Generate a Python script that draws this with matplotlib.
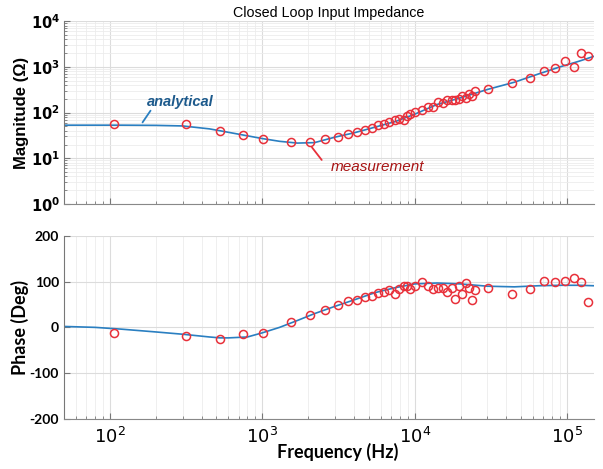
import numpy as np
import matplotlib
matplotlib.use('Agg')
import matplotlib.pyplot as plt
from matplotlib.ticker import LogLocator, NullFormatter

# measured points (Hz)
meas_freq = [106, 318, 528, 743, 1007, 1535, 2055, 2583, 3128, 3673, 4170, 4700,
             5225, 5775, 6300, 6820, 7400, 7940, 8490, 8880, 9380, 10000, 11130,
             12200, 13200, 14190, 15300, 16330, 17620, 18420, 19570, 20570, 21770,
             22770, 23830, 24820, 30050, 43200, 56700, 70100, 83700, 96900,
             110400, 124000, 137000]
meas_mag = [55, 55, 39, 32.7, 27, 23, 23, 26.8, 29, 33.9, 38, 40.7,
            45.7, 52.5, 56, 62, 67.6, 71, 70, 84, 91, 101, 112,
            132, 130, 167, 161, 191, 185, 185, 195, 233, 208,
            250, 226, 300, 327, 435, 577, 820, 925, 1336,
            988, 1968, 1690]
meas_phase = [-13, -19, -25.5, -15, -11.6, 11, 27, 38.5, 48.7, 57.5, 60.4, 67,
              69, 75.6, 76.4, 81.5, 73.5, 83, 89.5, 89.5, 83.6, 90, 99,
              91, 83.6, 86.5, 85, 78, 87, 63, 90, 74, 97.5,
              85, 60, 81.5, 87, 72, 83, 101, 99.6, 102,
              109, 99, 55]

# analytical curve
ana_freq = [50, 80, 120, 200, 300, 450, 528, 600, 800, 1000, 1300, 1700, 2200,
            3000, 4000, 5500, 7500, 10000, 14000, 20000, 30000, 45000, 65000,
            90000, 120000, 150000]
ana_mag = [53, 53, 53, 52.5, 51, 44, 40, 37, 31, 27, 23.5, 21.5, 22,
           29, 36, 48, 64, 92, 150, 210, 320, 460, 700,
           1000, 1330, 1700]
ana_phase = [2, 0, -4, -10, -15, -21, -23, -23, -21, -12, 0, 15, 30,
             46, 60, 76, 87, 95, 97, 95, 90, 88.6, 91,
             92, 92, 91]

blue = '#2a7fc1'
red = '#e8303a'

fig = plt.figure(figsize=(6.03, 4.69), dpi=100)
ax1 = fig.add_axes([0.106, 0.565, 0.879, 0.39])
ax2 = fig.add_axes([0.106, 0.107, 0.879, 0.39])

for ax in (ax1, ax2):
    ax.set_xscale('log')
    ax.set_xlim(50, 1.5e5)
    ax.grid(True, which='major', color='#dcdcdc', lw=0.8)
    ax.grid(True, which='minor', color='#ececec', lw=0.6)
    ax.spines['top'].set_visible(False)
    ax.spines['right'].set_visible(False)
    ax.spines['left'].set_color('#777777')
    ax.spines['bottom'].set_color('#888888')
    ax.tick_params(which='both', direction='in', color='#777777')
    ax.tick_params(which='major', length=4)
    ax.tick_params(which='minor', length=2.5)
    ax.set_axisbelow(True)

# magnitude
ax1.plot(ana_freq, ana_mag, color=blue, lw=1.2)
ax1.plot(meas_freq, meas_mag, 'o', mfc='none', mec=red, ms=5.8, mew=1.1)
ax1.set_yscale('log')
ax1.set_ylim(1, 1e4)
ax1.yaxis.set_minor_locator(LogLocator(base=10, subs=np.arange(2, 10)))
ax1.yaxis.set_minor_formatter(NullFormatter())
ax1.set_yticks([1, 10, 100, 1000, 10000])
ax1.set_yticklabels(['$\\mathbf{10^0}$', '$\\mathbf{10^1}$', '$\\mathbf{10^2}$',
                     '$\\mathbf{10^3}$', '$\\mathbf{10^4}$'], fontsize=10.5)
ax1.tick_params(axis='y', which='major', pad=3)
ax1.tick_params(axis='x', which='both', labelbottom=False)
ax1.set_ylabel('Magnitude (Ω)', fontsize=12, fontweight='bold', family='Liberation Sans')
ax1.yaxis.set_label_coords(-0.066, 0.5)
ax1.set_title('Closed Loop Input Impedance', fontsize=10.3, family='Liberation Sans', pad=3)

# labels with leader lines
ax1.annotate('', xy=(164, 61), xytext=(185, 110),
             arrowprops=dict(arrowstyle='-', color=blue, lw=1.3, shrinkA=0, shrinkB=0))
ax1.text(288, 170, 'analytical', fontsize=10.5, fontstyle='italic', fontweight='bold',
         color='#1d5a8c', ha='center', va='center', family='Liberation Sans')
ax1.annotate('', xy=(2120, 17.3), xytext=(2455, 9.2),
             arrowprops=dict(arrowstyle='-', color=red, lw=1.3, shrinkA=0, shrinkB=0))
ax1.text(5690, 6.4, 'measurement', fontsize=11, fontstyle='italic',
         color='#a81414', ha='center', va='center', family='Liberation Sans')

# phase
ax2.plot(ana_freq, ana_phase, color=blue, lw=1.2)
ax2.plot(meas_freq, meas_phase, 'o', mfc='none', mec=red, ms=5.8, mew=1.1)
ax2.set_ylim(-200, 200)
ax2.set_yticks([-200, -100, 0, 100, 200])
ax2.set_yticklabels(['-200', '-100', '0', '100', '200'], fontsize=10, fontweight='bold',
                    family='Lato')
ax2.set_xticks([1e2, 1e3, 1e4, 1e5])
ax2.set_xticklabels(['$10^2$', '$10^3$', '$10^4$', '$10^5$'], fontsize=13)
ax2.tick_params(axis='x', which='major', pad=6)
ax2.xaxis.set_minor_formatter(NullFormatter())
ax2.set_ylabel('Phase (Deg)', fontsize=13, fontweight='bold', family='Lato')
ax2.yaxis.set_label_coords(-0.066, 0.5)
ax2.set_xlabel('Frequency (Hz)', fontsize=13, fontweight='bold', family='Lato')
ax2.xaxis.set_label_coords(0.516, -0.13)

fig.savefig('out.png', dpi=100)
